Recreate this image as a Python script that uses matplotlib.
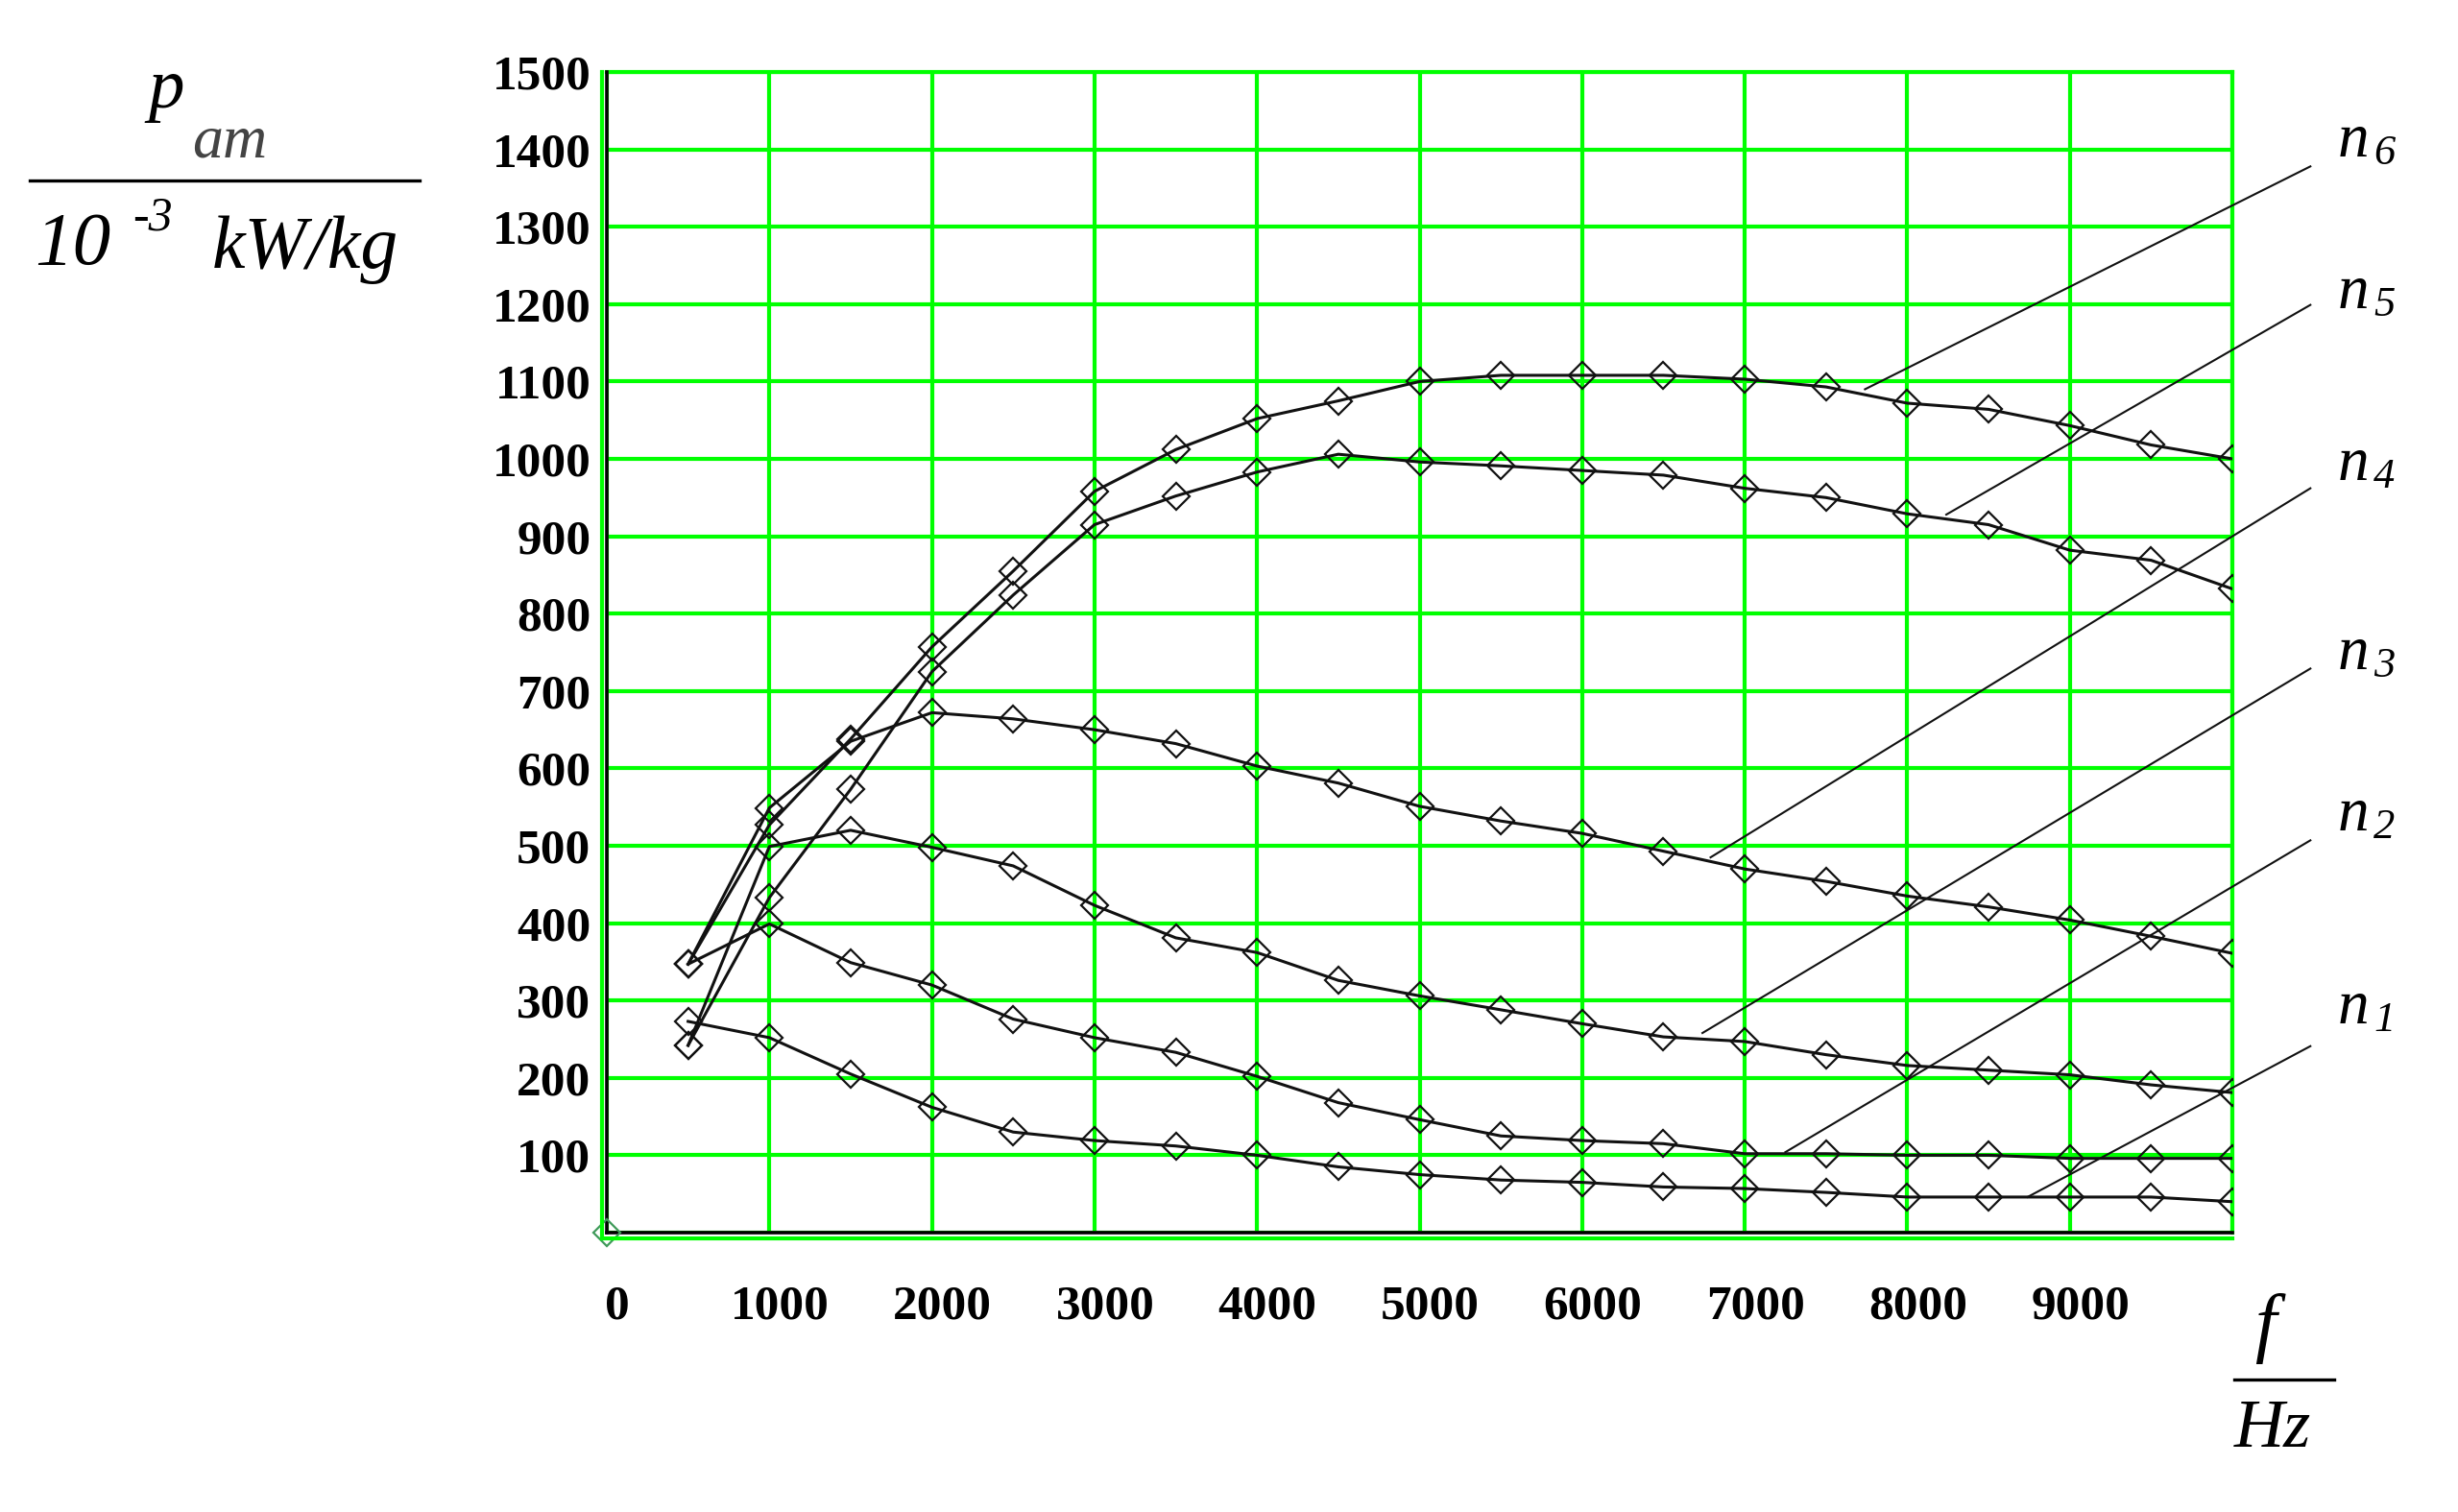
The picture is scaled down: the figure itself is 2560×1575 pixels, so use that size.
import matplotlib.pyplot as plt
from matplotlib.lines import Line2D
from matplotlib.transforms import ScaledTranslation

# frequency steps (Hz) and loss curves p_am (10^-3 kW/kg) for n1..n6
freq = [500, 1000, 1500, 2000, 2500, 3000, 3500, 4000, 4500, 5000,
        5500, 6000, 6500, 7000, 7500, 8000, 8500, 9000, 9500, 10000]
n1 = [273, 252, 205, 162, 130, 119, 112, 100, 85, 75,
      68, 65, 59, 57, 52, 46, 46, 46, 46, 40]
n2 = [347, 399, 349, 320, 276, 252, 233, 202, 168, 146,
      125, 119, 115, 102, 102, 100, 100, 96, 96, 96]
n3 = [242, 499, 520, 498, 474, 423, 381, 362, 326, 306,
      288, 270, 253, 247, 230, 216, 210, 204, 191, 181]
n4 = [347, 549, 635, 672, 664, 650, 632, 603, 581, 551,
      532, 516, 493, 470, 454, 435, 421, 404, 383, 361]
n5 = [242, 433, 573, 725, 824, 915, 952, 983, 1006, 996,
      991, 985, 979, 962, 950, 929, 915, 882, 869, 832]
n6 = [347, 527, 638, 757, 855, 958, 1012, 1052, 1075, 1100,
      1108, 1108, 1108, 1103, 1093, 1072, 1064, 1043, 1018, 1000]
curves = [n1, n2, n3, n4, n5, n6]
curve_names = ['1', '2', '3', '4', '5', '6']

x_ticks = list(range(0, 10001, 1000))
x_ticklabels = ['0', '1000', '2000', '3000', '4000', '5000', '6000', '7000', '8000', '9000', '']
y_ticks = list(range(0, 1501, 100))
y_ticklabels = [''] + [str(v) for v in y_ticks[1:]]

# leader lines: point on the curve -> end near the label (data units)
leader_start = [(8740, 46), (7250, 104), (6740, 258), (6790, 485), (8240, 928), (7740, 1090)]
leader_end = [(10480, 241), (10480, 507), (10480, 729), (10480, 962), (10480, 1199), (10480, 1378)]
label_baseline = [1066, 865, 697, 500, 321, 163]  # pixels from top

W, H = 2560, 1575
GREEN = '#00ff00'
SERIF = 'Liberation Serif'


def fx(px):
    return px / W


def fy(py):
    return 1 - py / H


def ftext(fig, x, y, s, size, **kw):
    fig.text(fx(x), fy(y), s, fontsize=size, family=SERIF, style='italic',
             ha='left', va='baseline', **kw)


fig = plt.figure(figsize=(W / 100, H / 100), dpi=100)
ax = fig.add_axes([fx(632), fy(1284), (2325 - 632) / W, (1284 - 75) / H])
ax.set_xlim(0, 10000)
ax.set_ylim(0, 1500)

ax.set_xticks(x_ticks)
ax.set_xticklabels(x_ticklabels)
ax.set_yticks(y_ticks)
ax.set_yticklabels(y_ticklabels)
ax.tick_params(length=0, labelsize=37)
ax.tick_params(axis='x', pad=39)
ax.tick_params(axis='y', pad=12)
for lab in ax.get_xticklabels() + ax.get_yticklabels():
    lab.set_family(SERIF)
    lab.set_weight('bold')
# x labels sit a little right of their grid line
for lab in ax.get_xticklabels():
    lab.set_transform(lab.get_transform() + ScaledTranslation(0.11, 0, fig.dpi_scale_trans))

ax.grid(True, color=GREEN, linewidth=3)
ax.set_axisbelow(True)
for side in ['top', 'right']:
    ax.spines[side].set_color(GREEN)
    ax.spines[side].set_linewidth(3)
for side in ['left', 'bottom']:
    ax.spines[side].set_color('black')
    ax.spines[side].set_linewidth(2.6)
    ax.spines[side].set_zorder(5)

# green lines just outside the black axes
fig.add_artist(Line2D([fx(627), fx(627)], [fy(75), fy(1290)], color=GREEN, lw=3))
fig.add_artist(Line2D([fx(627), fx(2325)], [fy(1290), fy(1290)], color=GREEN, lw=3))

for vals in curves:
    ax.plot(freq, vals, color='#111111', lw=2.2, marker='D', markersize=14,
            markerfacecolor='none', markeredgecolor='#111111', markeredgewidth=1.6, zorder=3)

ax.plot([0], [0], marker='D', markersize=14, markerfacecolor='none',
        markeredgecolor='#3f9a5a', markeredgewidth=1.6, clip_on=False, zorder=6)

for (x0, y0), (x1, y1) in zip(leader_start, leader_end):
    ax.plot([x0, x1], [y0, y1], color='#111111', lw=1.5, clip_on=False, zorder=4)

# curve labels n1..n6
for name, base in zip(curve_names, label_baseline):
    ftext(fig, 2435, base, 'n', 47)
    ftext(fig, 2472, base + 8, name, 32)

# y axis label as a fraction
ftext(fig, 154, 112, 'p', 54)
ftext(fig, 200, 163, 'am', 46, color='#444444')
fig.add_artist(Line2D([fx(31), fx(437)], [fy(188), fy(188)], color='black', lw=2.4))
ftext(fig, 36, 275, '10', 57)
ftext(fig, 138, 240, '-3', 36)
ftext(fig, 221, 279, 'kW/kg', 56)

# x axis label
ftext(fig, 2348, 1404, 'f', 58)
fig.add_artist(Line2D([fx(2327), fx(2431)], [fy(1437), fy(1437)], color='black', lw=2.4))
ftext(fig, 2327, 1507, 'Hz', 52)

fig.savefig('out.png', dpi=100)
